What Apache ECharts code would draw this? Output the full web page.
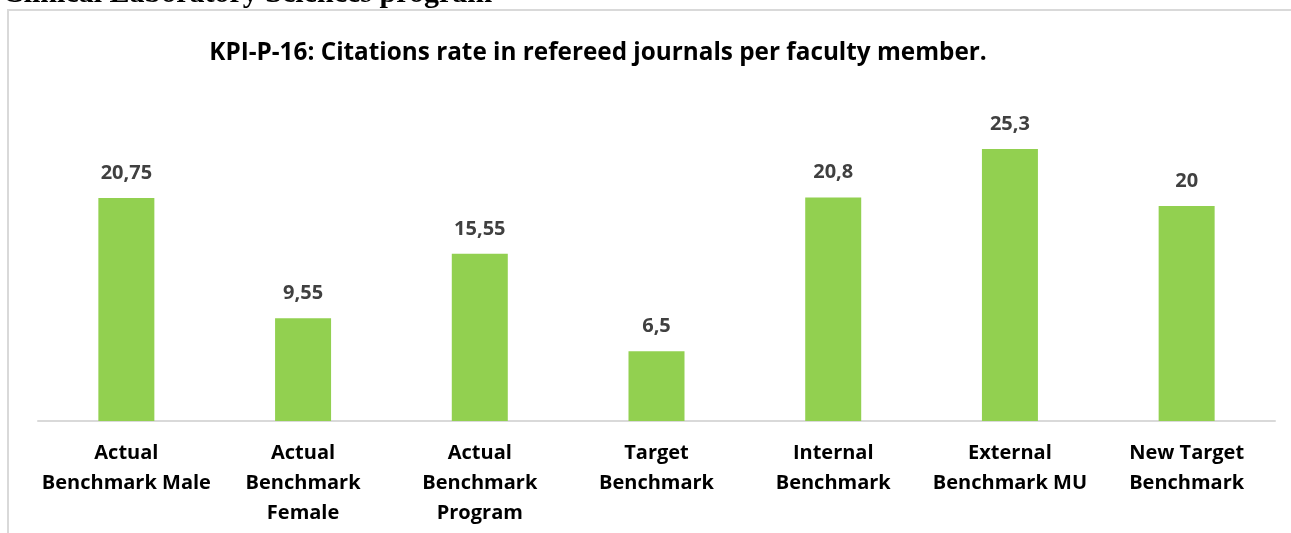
<!DOCTYPE html>
<html>
<head>
<meta charset="utf-8">
<script src="https://cdn.jsdelivr.net/npm/echarts@6/dist/echarts.min.js"></script>
<style>
  html, body { margin: 0; padding: 0; background: #fff; }
  #chart { width: 1291px; height: 533px; }
</style>
</head>
<body>
<div id="chart"></div>
<script>
// KPI-P-16 citations per faculty member
const categories = [
  'Actual\nBenchmark Male',
  'Actual\nBenchmark\nFemale',
  'Actual\nBenchmark\nProgram',
  'Target\nBenchmark',
  'Internal\nBenchmark',
  'External\nBenchmark MU',
  'New Target\nBenchmark'
];
const citationRates = [20.75, 9.55, 15.55, 6.5, 20.8, 25.3, 20];

const headerText = 'Clinical Laboratory Sciences program';
const titleText = 'KPI-P-16: Citations rate in refereed journals per faculty member.';

const sansFont = '"Open Sans", Lato, sans-serif';

const chart = echarts.init(document.getElementById('chart'));

chart.setOption({
  animation: false,
  backgroundColor: '#ffffff',
  graphic: [
    {
      type: 'text',
      left: 2,
      top: -21,
      style: {
        text: headerText,
        font: 'bold 30px "Liberation Serif", "Times New Roman", serif',
        fill: '#000000'
      }
    },
    {
      type: 'polyline',
      shape: { points: [[8, 533], [8, 10], [1291, 10]] },
      style: { stroke: '#d9d9d9', lineWidth: 2, fill: null }
    },
    {
      type: 'text',
      x: 598,
      y: 53,
      style: {
        text: titleText,
        font: 'bold 24.3px ' + sansFont,
        fill: '#000000',
        align: 'center',
        verticalAlign: 'middle'
      }
    }
  ],
  grid: { left: 38, right: 16, top: 98.5, bottom: 112 },
  xAxis: {
    type: 'category',
    data: categories,
    axisLine: { show: true, lineStyle: { color: '#d9d9d9', width: 2 } },
    axisTick: { show: false },
    axisLabel: {
      interval: 0,
      margin: 17,
      fontFamily: sansFont,
      fontWeight: 'bold',
      fontSize: 20,
      lineHeight: 30,
      color: '#000000'
    }
  },
  yAxis: {
    type: 'value',
    min: 0,
    max: 30,
    show: false,
    splitLine: { show: false }
  },
  series: [{
    type: 'bar',
    data: citationRates,
    barWidth: 56,
    itemStyle: { color: '#92d050' },
    label: {
      show: true,
      position: 'top',
      distance: 15,
      fontFamily: sansFont,
      fontWeight: 'bold',
      fontSize: 20,
      color: '#404040',
      formatter: p => String(p.value).replace('.', ',')
    }
  }]
});
</script>
</body>
</html>
